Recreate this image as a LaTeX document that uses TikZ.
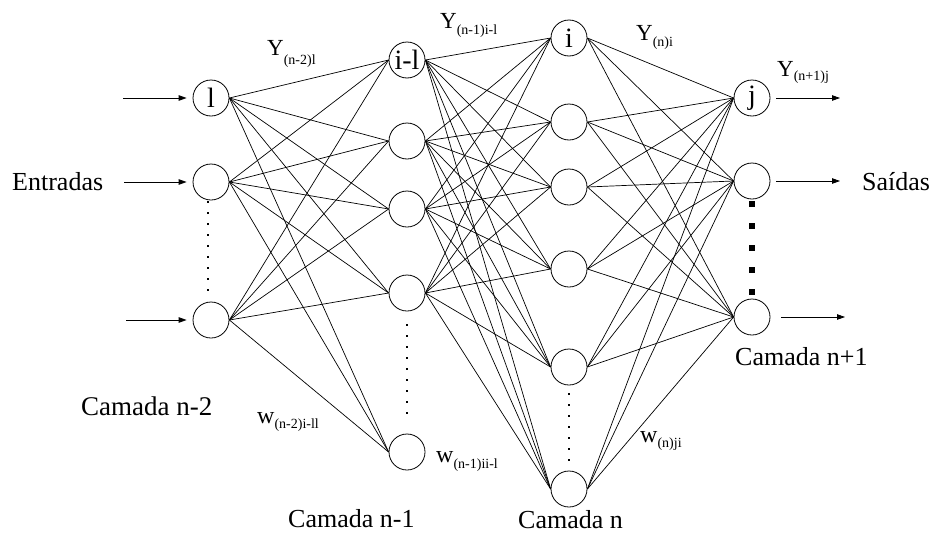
\documentclass[tikz,border=0pt]{standalone}
\usepackage{fontspec}
\setmainfont{Liberation Serif}
\usetikzlibrary{arrows.meta}
\newcommand{\subtxt}[2][6pt]{\raisebox{-#1}{\fontsize{14}{14}\selectfont #2}}
\begin{document}
\begin{tikzpicture}[x=1pt,y=-1pt,
  neuron/.style={circle,draw,line width=0.8pt,minimum size=36pt,inner sep=0pt,font=\fontsize{28}{28}\selectfont},
  syn/.style={line width=0.7pt},
  io/.style={line width=0.8pt,-{Triangle[length=8pt,width=5.5pt]}},
  lbl/.style={anchor=base west,inner sep=0pt,font=\fontsize{26}{26}\selectfont},
  ylbl/.style={anchor=base west,inner sep=0pt,font=\fontsize{23}{23}\selectfont},
  wlbl/.style={anchor=base west,inner sep=0pt,font=\fontsize{24}{24}\selectfont}]
\useasboundingbox (0,0) rectangle (931,533);
% layer n-2
\node[neuron] (A1) at (211,98) {\makebox[0pt]{l}};
\node[neuron] (A2) at (211,182) {};
\node[neuron] (A3) at (211,320) {};
% layer n-1
\node[neuron] (B1) at (407,60) {\makebox[0pt]{i-l}};
\node[neuron] (B2) at (407,141) {};
\node[neuron] (B3) at (407,209) {};
\node[neuron] (B4) at (407,293) {};
\node[neuron] (B5) at (407,452) {};
% layer n
\node[neuron] (C1) at (569,38) {\makebox[0pt]{i}};
\node[neuron] (C2) at (569,122) {};
\node[neuron] (C3) at (569,187) {};
\node[neuron] (C4) at (569,269) {};
\node[neuron] (C5) at (569,367) {};
\node[neuron] (C6) at (569,489) {};
% layer n+1
\node[neuron] (D1) at (752,98) {\makebox[0pt]{j}};
\node[neuron] (D2) at (752,181) {};
\node[neuron] (D3) at (752,317) {};
% connections
\foreach \a in {A1,A2,A3}
  \foreach \b in {B1,B2,B3,B4,B5}
    \draw[syn] (\a.east) -- (\b.west);
\foreach \a in {B1,B2,B3,B4}
  \foreach \b in {C1,C2,C3,C4,C5,C6}
    \draw[syn] (\a.east) -- (\b.west);
\foreach \a in {C1,C2,C3,C4,C5,C6}
  \foreach \b in {D1,D2,D3}
    \draw[syn] (\a.east) -- (\b.west);
% inputs
\coordinate (inA1) at (123,98);
\coordinate (inA2) at (124,182);
\coordinate (inA3) at (126,320);
\draw[io,shorten >=6pt] (inA1) -- (A1.west);
\draw[io,shorten >=6pt] (inA2) -- (A2.west);
\draw[io,shorten >=6pt] (inA3) -- (A3.west);
% outputs
\coordinate (outD1) at (840,98);
\coordinate (outD2) at (840,181);
\coordinate (outD3) at (845,317);
\draw[io,shorten <=6pt] (D1.east) -- (outD1);
\draw[io,shorten <=6pt] (D2.east) -- (outD2);
\draw[io,shorten <=11pt] (D3.east) -- (outD3);
% dots
\foreach \y in {202,213,...,290} \fill ([shift={(-1.4pt,-1.4pt)}]208,\y) rectangle ++(2.8pt,2.8pt);
\foreach \y in {325,336,...,413} \fill ([shift={(-1.4pt,-1.4pt)}]407,\y) rectangle ++(2.8pt,2.8pt);
\foreach \y in {394,405,...,460} \fill ([shift={(-1.4pt,-1.4pt)}]569,\y) rectangle ++(2.8pt,2.8pt);
\foreach \y in {204,226,...,292} \fill ([shift={(-2.6pt,-2.6pt)}]752,\y) rectangle ++(5.2pt,5.2pt);
% labels
\node[lbl] (tin) at (12,190) {Entradas};
\node[lbl] (tout) at (862,190) {Saídas};
\node[lbl,font=\fontsize{27}{27}\selectfont] (tl1) at (81,415) {Camada n-2};
\node[lbl] (tl2) at (288,527) {Camada n-1};
\node[lbl] (tl3) at (518,528) {Camada n};
\node[lbl] (tl4) at (735,365) {Camada n+1};
\node[ylbl] (y1) at (267,55) {Y\subtxt[9pt]{(n-2)l}};
\node[ylbl] (y2) at (440,28) {Y\subtxt{(n-1)i-l}};
\node[ylbl] (y3) at (636,40) {Y\subtxt{(n)i}};
\node[ylbl] (y4) at (777,76) {Y\subtxt[4pt]{(n+1)j}};
\node[wlbl] (w1) at (257,423) {w\subtxt[5pt]{(n-2)i-ll}};
\node[wlbl] (w2) at (436,462) {w\subtxt{(n-1)ii-l}};
\node[wlbl] (w3) at (640,442) {w\subtxt[5pt]{(n)ji}};
\end{tikzpicture}
\end{document}
